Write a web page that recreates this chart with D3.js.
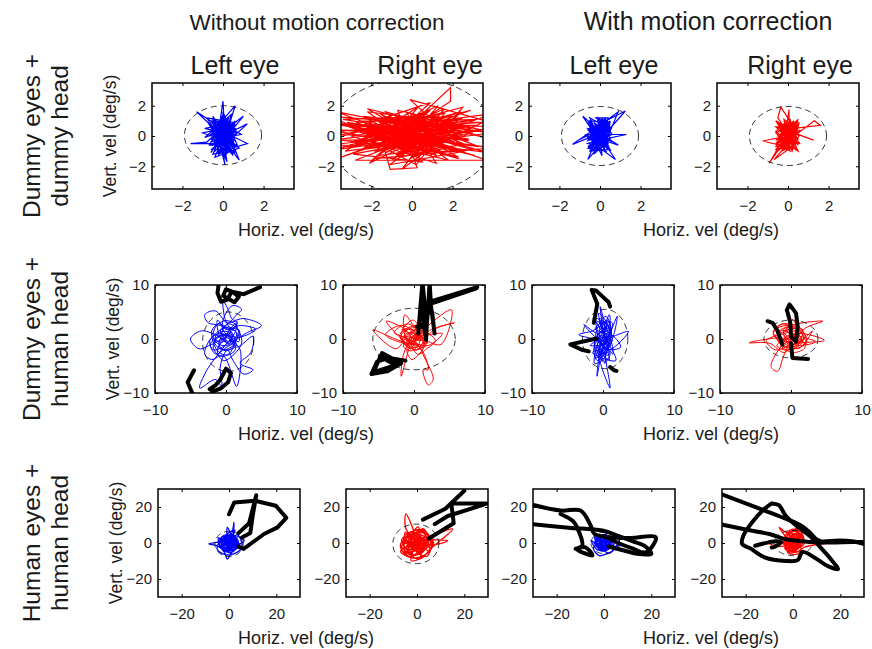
<!DOCTYPE html>
<html>
<head>
<meta charset="utf-8">
<script src="https://cdn.jsdelivr.net/npm/d3@7"></script>
<style>
  body { margin: 0; background: #fff; }
  svg { font-family: "Liberation Sans", Arial, Helvetica, sans-serif; }
</style>
</head>
<body>
<svg width="872" height="649"></svg>
<script>
// Text of the figure
const groupTitles = ["Without motion correction", "With motion correction"];
const eyeTitles = ["Left eye", "Right eye", "Left eye", "Right eye"];
const rowLabels = [["Dummy eyes +", "dummy head"], ["Dummy eyes +", "human head"], ["Human eyes +", "human head"]];
const xLabel = "Horiz. vel (deg/s)";
const yLabel = "Vert. vel (deg/s)";

// Axis ranges and ticks per row
const rowDomains = [[-3.5, 3.5], [-10, 10], [-30, 30]];
const rowTicks = [[-2, 0, 2], [-10, 0, 10], [-20, 0, 20]];

// Velocity traces (deg/s), [horiz, vert]
const traceR1C1 = [[0.1,0.2],[-0.4,0.9],[0.3,-0.6],[-0.2,-1.1],[0.5,0.4],[-0.6,0.1],[0.2,1.1],[0.6,-0.3],[-0.3,-0.5],[0.0,2.3],[0.1,-0.2],[-0.5,-0.9],[0.4,0.8],[-0.9,0.5],[0.3,0.1],[1.2,-0.5],[0.2,-0.9],[-0.3,0.6],[0.6,2.0],[0.2,0.3],[-1.3,1.6],[-0.2,0.2],[0.5,-1.3],[-0.5,0.4],[0.2,-1.7],[-0.1,0.7],[0.7,0.2],[-0.7,-0.6],[0.4,-0.5],[-1.6,-0.5],[-0.8,-0.4],[0.3,0.9],[-0.4,-1.4],[0.8,-0.8],[0.0,0.0],[1.2,0.8],[0.3,-0.3],[-0.5,1.3],[0.1,-1.9],[-0.2,0.5],[0.6,0.6],[-0.9,-0.1],[0.4,1.4],[0.0,-0.7],[-0.4,-0.2],[0.9,0.1],[-0.2,1.0],[0.2,-1.2],[-0.7,0.8],[0.5,-0.1],[-0.3,-0.8],[1.0,1.3],[0.1,0.4],[-0.6,-1.1],[0.3,0.6],[-1.0,0.2],[0.7,-0.6],[0.0,1.6],[-0.1,-0.4],[0.4,0.2],[-0.5,0.0],[0.2,-0.5],[0.8,-1.6],[0.1,0.8],[-0.4,0.3],[0.3,-1.0],[-0.8,1.2],[0.5,0.9],[0.0,-0.1],
  [-0.3,0.4],[0.4,-0.2],[-0.5,-0.6],[0.2,0.9],[0.5,-0.8],[-0.6,0.7],[0.1,-1.3],[0.6,1.0],[-0.2,-0.3],[0.4,0.5],[-0.5,1.1],[0.3,-1.1],[-0.1,0.1],[0.6,0.3],[-0.4,-1.0],[0.0,1.2],[0.5,-0.4],[-0.6,-0.2],[0.2,0.6],[-0.3,-0.7],[0.4,1.1],[-0.5,0.2],[0.1,-0.6],[0.6,-1.1],[-0.2,0.9],[0.3,0.0],[-0.6,-0.9],[0.2,-0.2],[-0.1,1.3],[0.5,0.7],[-0.4,0.0],[0.0,-1.0],[0.6,-0.1],[-0.3,1.0],[0.3,-0.8],[-0.6,0.4],[0.1,0.5],[0.5,-0.6],[-0.2,-1.2],[0.4,0.3],[-0.5,0.8],[0.2,-0.4],[-0.1,-0.8],[0.6,0.8],[-0.4,-0.4],[0.0,0.6],[0.3,1.2],[-0.6,-0.4],[0.5,0.1],[-0.2,-0.5],[0.2,1.0],[-0.5,-1.2],[0.4,-1.0],[-0.3,0.2],[0.1,-0.1],[0.6,0.5],[-0.4,0.6],[0.0,-0.4],[0.3,0.8],[-0.6,1.0],[0.5,-1.2],[-0.1,0.3],[0.2,-0.8],[-0.3,-1.1],[0.4,0.0],[-0.5,0.5],[0.1,1.1],[0.6,-0.7],[-0.2,-0.1],[0.3,0.4]];
const traceR1C2 = [[0.2,0.3],[-3.8,0.8],[2.1,-0.4],[-1.2,1.2],[3.9,0.2],[-2.5,-0.9],[0.8,1.6],[-3.9,-0.2],[1.5,-1.1],[-0.6,0.9],[3.2,1.1],[-2.0,0.1],[0.4,-1.5],[-4.0,1.3],[2.6,0.6],[-1.4,-0.6],[0.9,2.2],[-2.9,0.5],[4.0,-0.8],[-0.8,-1.2],[1.8,1.0],[-3.5,-1.4],[2.9,1.7],[-1.0,0.4],[0.5,-0.3],[-2.2,1.8],[3.6,-0.1],[-0.3,1.3],[1.2,-1.8],[-3.0,0.0],[0.7,0.8],[-1.7,-1.3],[2.4,-0.6],[-0.1,2.4],[3.9,0.9],[-2.6,1.0],[1.1,-0.7],[-4.1,-0.6],[2.0,0.3],[-0.5,-2.2],[1.6,1.5],[-1.9,0.7],[3.1,-1.3],[-0.9,0.0],[0.3,1.9],[-3.3,-1.0],[2.7,0.0],[-1.3,1.6],[0.6,-1.0],[-2.7,0.3],[4.1,1.5],[-0.4,-0.5],[1.4,0.5],[-2.1,-1.8],[1.9,3.2],[1.9,2.3],[0.0,0.6],[-3.7,1.6],[2.3,-1.5],[-1.1,-0.2],[0.8,1.2],[-2.4,-0.4],[3.4,0.4],[-0.7,1.7],[0.25,-2.1],[-1.07,-2.2],[-1.6,0.2],[2.8,-0.3],[-3.2,0.9],[0.1,-0.9],[1.7,0.7],[-2.8,-1.6],[3.7,-1.6],[-0.2,0.2],[-1.8,1.1],[2.2,1.3],[-1.0,-1.6],[0.4,0.1],[-4.0,0.4],[3.0,0.2],[-0.6,-0.8],[1.3,2.0],[-2.3,-0.1],[0.2,-1.9],[2.5,1.9],[-1.5,0.5],[0.9,-0.5],[-3.4,-0.7],[1.5,0.0],[-0.3,-0.2],
  [-1.5,0.6],[1.8,-0.3],[-0.4,-1.0],[2.5,1.2],[-2.8,-0.6],[0.6,0.9],[-3.6,0.3],[1.0,-0.9],[-0.9,1.4],[3.3,-0.7],[-2.1,0.2],[0.3,-1.3],[2.0,0.9],[-1.3,-1.1],[0.9,0.3],[-4.2,0.9],[1.4,-0.5],[-0.2,1.0],[2.9,0.5],[-2.4,1.3],[0.1,-0.6],[1.6,1.8],[-1.8,-0.2],[3.8,-1.1],[-0.7,0.5],[0.5,-1.7],[-2.9,-1.2],[2.2,0.1],[-0.3,1.6],[1.2,-1.3],[-3.1,0.6],[0.8,0.0],[-1.1,-1.9],[2.6,-1.0],[-0.5,0.3],[1.9,1.4],[-2.0,-0.8],[4.2,0.6],[-1.4,0.9],[0.2,-0.2],[-3.8,-0.9],[1.1,1.1],[-0.8,-0.4],[2.3,-1.4],[-1.6,1.5],[0.7,-0.7],[-2.6,0.4],[3.5,0.9],[-0.1,-1.5],[1.5,0.6],[-1.2,0.1],[2.8,-0.2],[-3.4,1.1],[0.4,1.3],[-0.6,-1.4],[1.7,-0.8],[-2.3,0.7],[0.0,0.2],[3.0,-0.9],[-1.9,-1.5],[0.9,1.7],[-0.4,0.8],[1.3,-0.1],[-4.0,-0.3],[2.1,0.8],[-1.0,-0.6],[0.6,1.5],[-2.5,-0.2],[1.8,-1.6],[-0.2,0.4],[3.7,0.3],[-1.7,1.0],[0.3,-0.9],[-0.9,-0.1],[2.4,1.6],[-3.0,-0.4],[1.0,0.4],[-0.5,-1.1],[1.4,1.0],[-2.2,1.6],[0.8,-1.2],[-1.3,0.3],[2.7,-0.6],[-0.1,0.9],[-3.5,0.1],[1.6,-0.3],[-0.7,1.2],[0.5,0.5],[-1.5,-0.9],[2.0,-0.1],[-0.3,-0.7],[1.2,1.3],[-2.7,0.9],[0.2,-1.1],[3.2,0.7],[-1.1,0.7],[0.7,-0.4],[-1.8,-1.0],[0.0,1.1],[1.9,-0.9]];
const traceR1C3 = [[0.0,0.1],[-0.5,0.8],[0.4,-0.6],[-0.3,-0.9],[0.3,1.2],[-0.6,-0.2],[0.5,0.5],[-0.2,1.2],[0.4,1.2],[0.1,-0.4],[-0.6,0.4],[1.25,1.65],[0.3,0.2],[-0.4,-0.6],[0.2,0.9],[-1.35,-0.55],[-0.5,-0.1],[0.5,-0.9],[-0.1,0.6],[0.9,1.6],[0.4,0.0],[-0.6,-1.55],[-0.2,-0.3],[0.5,0.9],[-0.5,1.0],[0.76,-1.55],[0.0,-0.8],[-0.7,0.1],[1.3,0.1],[0.2,-0.2],[-0.4,0.5],[0.6,-0.4],[-0.85,1.3],[-0.3,0.2],[0.3,-1.0],[-0.6,-0.8],[0.45,0.3],[-0.1,1.0],[0.1,-1.3],[-0.5,0.3],[0.5,-0.2],[-0.3,-1.2],[0.2,0.6],[-1.1,-0.3],[0.4,0.7],[0.0,-0.5],[-0.5,0.6],[0.9,-0.6],[-0.2,-0.1],[0.3,0.4],[-0.4,-0.4],[0.1,1.1],[0.6,0.1],[-0.6,-0.5],[0.2,-0.7],[-0.1,0.3],
  [-0.4,0.3],[0.3,-0.5],[-0.5,-0.8],[0.2,1.1],[0.4,-0.3],[-0.6,0.9],[0.0,-1.0],[0.5,0.8],[-0.2,-0.2],[0.3,0.6],[-0.5,1.2],[0.2,-0.9],[-0.1,0.2],[0.5,0.2],[-0.4,-1.0],[0.1,1.2],[0.4,-0.7],[-0.6,-0.1],[0.2,0.5],[-0.3,-0.6],[0.4,1.0],[-0.5,0.1],[0.1,-0.5],[0.5,-1.0],[-0.2,0.8],[0.3,0.0],[-0.6,-0.7],[0.2,-0.1],[-0.1,1.2],[0.5,0.6],[-0.4,-0.2],[0.0,-0.8],[0.5,-0.1],[-0.3,0.9],[0.3,-0.6],[-0.6,0.5],[0.1,0.4],[0.4,-0.5],[-0.2,-1.0],[0.4,0.4],[-0.5,0.7],[0.2,-0.3],[-0.1,-0.7],[0.5,1.0],[-0.4,-0.5],[0.0,0.7],[0.3,1.1],[-0.6,-0.3],[0.45,0.1],[-0.2,-0.4],[0.2,0.9],[-0.5,-1.0],[0.4,-0.9],[-0.3,0.1],[0.1,-0.2],[0.5,0.4],[-0.4,0.6],[0.0,-0.3]];
const traceR1C4 = [[0.0,0.2],[-0.5,0.9],[0.4,-0.5],[-0.3,-1.0],[0.5,1.1],[-0.6,-0.3],[0.3,0.6],[-0.36,1.9],[-0.5,1.2],[0.2,-0.2],[-0.4,0.4],[1.6,0.7],[1.3,1.0],[0.4,0.1],[-0.2,-0.6],[0.05,1.75],[0.05,1.1],[-0.6,0.3],[0.5,-0.9],[-1.25,-0.33],[-0.4,-0.1],[0.3,1.0],[-0.93,-1.8],[-0.2,-0.4],[0.6,0.4],[-0.68,-1.55],[0.0,-0.9],[0.45,0.7],[-0.55,0.6],[1.27,-0.27],[0.1,0.3],[-0.4,-0.8],[0.5,-0.2],[-0.2,1.0],[0.3,-0.7],[-0.6,-0.9],[0.2,0.4],[-0.1,-0.2],[0.4,0.9],[-0.5,0.0],[0.6,-0.5],[-0.3,0.7],[0.1,-1.0],[-0.5,-0.5],[0.35,0.2],[-0.1,0.8],[0.2,-0.4],[-0.3,0.1],
  [-0.3,0.5],[0.4,-0.4],[-0.6,-0.7],[0.1,1.0],[0.5,-0.6],[-0.5,0.8],[0.2,-1.0],[0.55,0.9],[-0.1,-0.1],[0.3,0.3],[-0.6,1.0],[0.3,-0.8],[0.0,0.3],[0.5,0.5],[-0.4,-0.9],[0.1,1.1],[0.4,-0.2],[-0.5,-0.4],[0.2,0.7],[-0.3,-0.5],[0.5,1.0],[-0.6,0.2],[0.0,-0.6],[0.5,-1.0],[-0.2,0.9],[0.3,-0.1],[-0.5,-1.0],[0.1,0.0],[-0.2,1.1],[0.4,0.6],[-0.4,0.1],[0.1,-0.8],[0.55,0.0],[-0.3,0.8],[0.2,-0.5],[-0.6,0.6],[0.0,0.5],[0.4,-0.7],[-0.1,-0.9],[0.3,0.2],[-0.5,0.9],[0.1,-0.3],[-0.2,-0.6],[0.5,0.7],[-0.4,-0.3],[0.1,0.8],[0.3,1.0],[-0.6,-0.5],[0.4,0.3],[-0.1,-0.4]];

const traceR2C1 = [[0.0,0.5],[0.8,2.2],[1.5,3.0],[1.2,1.0],[-0.5,-1.5],[-1.8,-2.0],[-2.3,-0.5],[-1.0,1.5],[0.5,2.8],[1.8,1.5],[2.2,-0.8],[1.0,-3.0],[-0.3,-4.0],[-1.2,-2.5],[-0.5,0.0],[0.6,1.2],[-0.2,4.0],[-0.4,7.0],[0.3,5.5],[1.0,3.5],[2.5,3.8],[5.0,2.5],[3.0,1.2],[0.5,-0.5],[-1.5,0.8],[-3.5,1.5],[-5.0,0.0],[-3.8,-1.8],[-2.0,-1.0],[0.2,0.2],[1.5,-1.5],[3.8,0.5],[3.5,-2.5],[2.0,-4.5],[3.8,-5.7],[2.5,-6.5],[1.0,-4.0],[0.2,-2.0],[-0.8,-5.0],[-0.6,-8.8],[-1.5,-7.5],[-3.7,-9.1],[-2.8,-6.0],[-1.5,-3.5],[0.0,-1.0],[1.0,0.8],[-0.8,2.5],[-2.5,3.0],[-3.0,4.5],[-1.5,5.2],[0.2,3.0],[1.5,4.5],[2.2,5.5],[1.0,6.2],[0.0,4.8],[-0.5,2.0],[0.8,-0.2],[2.0,-2.0],[1.5,-8.8],[0.8,-6.5],[0.3,-4.5],[-0.5,-3.0],[-2.0,-3.8],[-3.0,-2.8],[-2.0,0.3],[-0.6,1.0],[0.5,0.0],[1.2,-1.0],[0.0,-2.2],[-1.0,-1.0],[-0.3,0.8],[1.8,0.3],[4.2,1.8],[2.0,2.5],[0.0,1.8],[-1.2,3.5],[-0.8,0.2],[0.4,-0.8],
  [-0.8,1.5],[0.5,2.2],[1.6,0.8],[1.0,-1.2],[-0.4,-2.0],[-1.6,-0.8],[-1.2,1.0],[0.2,1.4],[1.2,0.2],[0.6,-2.5],[-0.8,-3.2],[-1.8,-1.5],[-1.0,0.4],[0.4,0.6],[1.8,-0.5],[1.4,2.6],[0.0,3.4],[-1.4,2.4],[-1.8,0.2],[-0.6,-1.2],[0.8,-0.8],[1.5,1.2],[0.3,2.0],[-1.0,2.8],[-2.0,1.5],[-1.2,-2.2],[0.2,-3.0],[1.3,-2.0],[0.9,0.0],[-0.3,0.9],[-1.5,0.0],[-0.5,-0.6],[0.6,1.8],[1.9,1.6],[1.2,-0.6],[0.0,-1.6],[-1.4,-2.8],[-2.2,-1.0],[-0.8,0.6],[0.8,0.8],[0.4,-1.0],[-0.6,1.0],[0.2,2.8],[1.6,3.2],[1.0,1.8],[-0.2,0.0],[-1.0,-1.6],[0.5,-2.0],[1.5,-1.0],[0.5,0.4]];
const traceR2C2 = [[0.0,0.3],[1.2,1.5],[-0.8,-1.2],[-2.0,0.8],[0.5,2.5],[1.8,-0.5],[0.3,-2.0],[-1.5,-0.3],[-3.9,3.3],[-1.5,2.0],[0.2,0.0],[2.5,1.8],[5.7,3.0],[3.5,2.2],[1.0,0.2],[-0.5,1.2],[-2.5,-1.8],[-5.8,1.7],[-3.0,0.2],[-1.0,-0.8],[0.8,-1.5],[2.0,-5.7],[1.3,-5.7],[2.0,-8.5],[2.7,-7.5],[1.5,-3.5],[0.5,-1.0],[-1.2,0.5],[-1.3,4.5],[0.2,2.0],[1.5,0.0],[3.8,-1.0],[5.3,5.4],[3.2,3.8],[1.0,1.2],[-0.3,-0.5],[-1.8,-6.9],[-1.5,-3.0],[-0.5,-0.2],[0.8,0.8],[-0.8,2.8],[-2.8,1.2],[-1.0,0.0],[0.5,-2.8],[1.8,-1.8],[3.0,-0.3],[1.0,2.0],[-0.2,3.5],[-1.8,1.0],[-0.5,-1.8],[0.6,0.5],[2.2,0.8],[4.0,1.0],[2.0,-1.2],[0.0,-0.8],[-2.2,-0.5],[-4.0,0.8],[-2.0,2.5],[0.0,1.5],[1.5,-1.0],[-0.3,-3.8],[-1.0,-2.0],[0.3,0.9],[1.0,-0.3],[-0.7,0.6],
  [-0.6,1.2],[0.8,1.8],[1.6,0.4],[0.9,-1.2],[-0.5,-1.6],[-1.6,-0.6],[-1.2,0.9],[0.3,1.0],[1.3,0.0],[0.5,-2.0],[-0.9,-1.4],[-1.9,0.4],[-0.8,1.8],[0.6,0.2],[1.9,-0.8],[1.2,1.4],[-0.2,2.1],[-1.3,1.2],[-1.0,-0.4],[0.2,-1.0],[1.4,-1.6],[1.8,0.9],[0.0,0.6],[-1.5,-1.3],[-0.4,-2.2],[0.8,-0.5],[-0.3,0.8],[-1.7,1.8],[0.4,1.5],[1.0,0.6],[0.2,-0.4],[-1.1,0.1],[0.9,-1.8],[1.6,1.6],[-0.7,-0.8],[-0.1,1.4],[1.2,-0.2],[-1.4,0.5],[0.5,-1.2],[0.0,0.0]];
const traceR2C3 = [[0.0,0.5],[0.5,2.5],[-0.8,-1.5],[0.8,-3.0],[-0.5,3.8],[1.2,1.0],[-1.2,-0.5],[0.3,-4.5],[-0.4,6.0],[0.2,1.5],[-1.0,-3.5],[1.0,-1.0],[2.0,4.2],[0.6,0.0],[-0.6,-2.2],[1.0,-9.1],[0.6,-5.5],[0.0,-2.0],[-0.85,-6.9],[-0.3,-1.0],[0.5,3.0],[-1.5,1.5],[-3.4,0.8],[-1.0,-0.2],[0.8,-2.0],[3.6,1.4],[1.5,0.5],[0.0,-0.5],[-2.7,2.7],[-0.5,1.0],[0.9,4.5],[0.2,-3.5],[-1.2,-4.5],[-0.3,0.0],[1.4,-2.8],[0.4,2.2],[-0.9,3.2],[0.7,-1.2],[-1.5,-2.5],[1.8,-4.0],[0.0,1.2],[-0.6,4.8],[0.9,1.8],[-0.8,0.8],[0.3,-1.8],[2.5,-1.5],[1.0,0.8],[-0.4,-3.0],[0.1,0.3],[-1.8,-1.2],[0.6,-0.6],[-0.2,2.8],[1.3,3.0],[0.0,-1.4],
  [-0.5,1.8],[0.6,3.5],[1.1,0.6],[0.4,-1.6],[-0.8,-3.0],[-1.2,-0.8],[-0.4,1.2],[0.8,2.0],[0.6,-0.4],[-0.3,-2.5],[0.9,-3.8],[0.2,-1.2],[-1.0,0.4],[-0.6,2.6],[0.4,4.2],[1.2,1.4],[0.5,-2.2],[-0.8,-4.0],[-1.3,-1.8],[-0.2,0.6],[0.9,-0.8],[0.2,2.6],[-0.9,3.8],[-0.4,-0.6],[1.0,-2.6],[0.3,-4.2],[-0.6,-1.4],[0.7,0.8],[-1.1,1.8],[0.1,3.2],[1.3,-0.2],[-0.2,-3.2],[0.5,1.0],[-0.8,-0.2],[0.4,-0.9],[0.0,2.0]];
const traceR2C4 = [[0.0,0.3],[1.5,1.2],[-1.2,-0.8],[-2.5,1.5],[0.8,2.5],[2.2,-0.5],[0.2,-1.8],[-1.0,1.8],[4.5,3.3],[2.0,2.0],[0.5,0.0],[-1.8,0.2],[-5.9,-0.7],[-3.0,-0.8],[-1.0,-2.5],[0.5,-1.0],[4.7,-0.25],[2.5,0.8],[0.3,1.0],[-1.5,-1.5],[-2.8,-5.1],[-1.9,-6.0],[-1.0,-3.0],[0.0,-0.5],[1.2,0.8],[-0.5,2.8],[-2.0,2.2],[-0.8,0.5],[1.0,-1.8],[3.0,1.5],[1.5,-0.2],[-0.3,-1.2],[-2.2,-2.0],[-3.5,-0.3],[-1.0,1.0],[0.8,1.8],[0.2,3.6],[-0.6,1.5],[1.8,0.3],[3.5,-0.5],[1.0,-1.2],[-0.8,-0.3],[-2.5,0.8],[-1.2,2.8],[0.5,1.5],[2.0,-1.5],[0.3,-2.5],[-1.5,-1.0],[0.0,0.8],[1.2,-0.6],
  [-1.0,1.2],[0.8,2.0],[2.0,0.6],[1.0,-1.0],[-0.6,-1.6],[-1.8,-0.4],[-1.4,1.6],[0.2,0.8],[1.6,-0.4],[0.4,-1.8],[-1.2,-1.0],[-2.2,0.6],[-0.6,2.2],[1.2,1.4],[2.2,-1.0],[0.6,0.2],[-0.4,-0.8],[-1.6,0.8],[0.0,1.8],[1.6,1.8],[0.8,-1.4],[-1.0,-2.0],[-2.0,-1.2],[-0.2,0.2],[1.0,0.4],[-0.8,1.6],[0.4,2.4],[1.8,0.2],[-0.4,-1.2],[-1.4,0.0],[0.2,-0.6],[0.9,1.0]];

const traceR3C1 = [[0.0,0.0],[2.0,3.0],[-2.5,-1.5],[1.5,-4.0],[-1.0,4.5],[3.5,1.0],[-3.5,1.5],[0.5,-2.5],[2.1,11.5],[1.0,5.0],[-0.7,8.7],[-1.5,2.0],[-8.5,-0.6],[-5.0,-1.5],[-2.0,-5.0],[-0.7,-8.9],[1.0,-5.5],[3.0,-2.0],[6.4,1.3],[4.0,3.5],[0.5,1.5],[-2.0,0.5],[-4.5,3.0],[-3.0,-3.5],[0.0,-3.0],[2.5,-1.0],[1.0,2.5],[-1.5,-0.5],[3.5,4.5],[5.5,-2.5],[2.0,-6.0],[-1.5,-6.5],[-5.0,-3.5],[-4.0,0.5],[-1.0,3.0],[1.5,0.5],[-0.5,-1.5],[4.5,-0.5],[2.0,1.0],[-2.5,2.5],[0.8,6.5],[2.5,7.0],[0.0,2.0],[-3.0,-0.5],[1.0,-1.0],
  [-1.5,2.5],[1.5,3.5],[3.0,0.0],[1.5,-3.0],[-1.0,-4.0],[-3.0,-1.5],[-2.0,2.0],[0.5,2.5],[2.5,0.5],[1.0,-2.0],[-1.5,-2.5],[-3.5,0.5],[-1.0,4.0],[2.0,4.5],[3.5,-1.5],[0.5,-4.5],[-2.5,-3.5],[-3.0,2.5],[0.0,1.0],[2.0,-0.5],[-1.0,-1.0],[1.5,1.5],[-2.0,0.0],[0.5,-1.5],[3.0,2.5],[-0.5,3.5],[-2.5,1.0],[1.0,0.0],[0.0,-2.5],[-1.5,0.8],
  [-3.5,-2.5],[2.5,-3.5],[3.5,2.0],[-0.5,4.5],[-3.0,3.5],[-4.0,-0.5],[-1.0,-5.0],[1.5,-5.0],[4.0,0.0],[2.5,3.5],[0.0,4.5],[-2.5,-0.5],[-0.5,-3.5],[3.0,-1.0],[1.0,3.5],[-2.0,-4.5],[-4.5,1.5],[0.5,-0.5],[2.0,2.0],[-1.5,1.5],[3.5,-3.0],[-3.0,-3.0],[1.0,5.5],[-0.5,0.5]];
const traceR3C2 = [[0.0,0.0],[3.0,2.5],[-3.0,-2.0],[2.0,-5.0],[-2.5,4.5],[4.5,0.5],[-5.0,1.0],[0.5,-3.0],[-4.7,16.1],[-4.7,8.0],[-1.0,3.0],[13.0,1.3],[5.0,-1.0],[1.0,4.0],[-2.0,-6.0],[-2.5,-9.8],[2.5,-8.0],[5.5,-3.5],[15.1,7.8],[6.0,4.0],[0.0,1.5],[-6.5,-1.5],[-4.0,-5.0],[0.5,-6.5],[3.5,-3.0],[-1.5,-1.0],[-5.5,3.5],[-2.0,6.5],[1.5,7.0],[3.5,5.0],[0.0,-1.5],[-3.5,0.0],[2.0,1.0],[-7.0,-4.5],[-1.0,-8.5],[4.0,-6.0],[7.0,0.5],[2.5,3.0],[-1.0,-2.5],[1.5,-1.0],[-3.0,2.0],[0.5,9.0],[1.0,2.0],[-2.0,-3.5],[3.0,-1.5],
  [-3.0,4.0],[3.0,5.5],[6.0,1.0],[3.0,-4.0],[-2.0,-7.0],[-5.5,-3.0],[-4.0,3.0],[0.0,5.0],[4.5,2.0],[2.0,-2.0],[-2.5,-4.5],[-6.0,0.0],[-1.0,7.0],[3.5,6.5],[6.5,-2.0],[1.0,-8.0],[-4.5,-6.5],[-5.0,4.5],[0.0,2.0],[3.0,-0.5],[-2.0,-1.5],[2.0,3.0],[-3.5,0.5],[1.0,-5.0],[5.0,4.0],[-1.5,5.5],[-4.0,-1.0],[2.5,0.0],[-1.0,-3.0],[0.5,0.5],
  [-6.0,3.0],[4.0,-7.5],[6.5,3.0],[-3.0,-8.0],[-7.0,-1.0],[2.0,6.5],[5.5,-5.0],[-5.0,6.0],[-1.5,-6.5],[3.5,-2.0],[-4.0,-3.5],[1.0,4.5],[-2.5,2.5],[4.5,-1.0],[0.0,-4.0],[-5.5,-5.5],[2.5,8.0],[6.0,-3.0],[-3.5,5.0],[1.5,-2.5],[-1.0,1.0],[5.0,1.5],[-6.5,2.0],[0.5,-9.0],[3.0,3.5]];
const traceR3C3 = [[0.0,0.0],[2.5,2.0],[-2.0,-1.5],[1.5,-3.5],[-1.5,3.5],[3.5,0.5],[-3.5,0.5],[0.5,-2.5],[1.0,5.5],[0.0,2.0],[-2.5,-4.0],[-5.5,1.5],[-3.0,-1.0],[2.0,-5.5],[5.0,-2.0],[6.5,2.5],[3.0,3.5],[-1.0,1.0],[-4.0,3.5],[-1.5,-3.0],[1.0,-1.0],[4.0,-4.0],[0.0,-6.5],[-2.0,-7.0],[-4.5,-3.0],[-1.0,0.5],[2.0,1.0],[-0.5,4.5],[-2.5,2.0],[1.5,-0.5],[3.0,-1.5],[-1.0,-2.0],[8.0,-1.0],[4.0,1.5],[0.5,3.0],[-3.0,5.0],[-0.5,-0.5],
  [-1.5,2.5],[1.5,3.5],[3.5,-0.5],[1.0,-3.0],[-1.5,-3.5],[-3.5,-1.0],[-2.0,2.0],[0.5,3.5],[3.0,1.5],[1.5,-1.5],[-1.0,-4.0],[-3.0,0.5],[-0.5,4.5],[2.5,2.5],[2.0,-3.5],[-2.0,-2.5],[-1.0,1.0],[1.0,0.5],[0.0,-1.5],[-2.5,3.0],[3.5,-2.5],[0.5,1.5],[-1.5,-1.0],[1.0,-0.5],
  [-3.5,2.5],[3.0,3.5],[4.0,-1.5],[-2.5,-3.5],[0.0,-4.5],[2.5,-2.5],[-4.0,-0.5],[-1.0,4.5],[1.5,4.0],[3.5,1.0],[-2.0,0.5],[0.5,-3.0],[-3.0,-2.0],[2.0,0.0],[-0.5,2.5],[1.0,-2.0]];
const traceR3C4 = [[0.0,0.0],[2.5,3.0],[-2.0,-1.5],[1.5,-4.0],[-1.5,4.5],[3.5,0.5],[-4.0,1.0],[0.5,-3.0],[-5.9,8.7],[-3.0,6.0],[0.0,7.0],[2.0,8.5],[3.5,5.0],[1.0,1.0],[-6.0,-2.0],[-11.0,0.5],[-4.0,-0.5],[-2.0,-5.5],[2.0,-6.0],[4.5,-2.5],[17.0,0.5],[6.0,1.0],[2.0,2.0],[-3.0,3.0],[-1.0,-2.5],[3.0,-1.5],[-0.5,5.5],[1.5,-0.5],[-2.5,0.5],[4.0,3.5],[0.5,-5.0],[-3.5,-3.0],[-1.0,1.5],
  [-1.5,3.0],[1.5,5.5],[3.5,2.0],[2.0,-2.5],[-1.0,-4.0],[-3.5,-1.5],[-2.5,3.5],[0.5,6.5],[3.0,4.5],[1.5,-0.5],[-1.5,-2.5],[-3.0,1.5],[-1.0,6.0],[2.5,7.5],[4.0,0.0],[0.5,-4.5],[-2.5,-3.0],[-2.0,5.0],[0.0,2.5],[2.0,1.0],[-1.0,-0.5],[1.0,3.5],[-2.0,1.0],[0.5,-1.5],[4.5,3.0],[-0.5,4.5],[-3.0,-0.5],[1.5,0.5],
  [-3.5,4.0],[3.0,6.5],[4.5,-1.0],[-2.0,-4.5],[1.5,-5.0],[3.5,-3.0],[-4.0,0.0],[-1.5,7.0],[1.0,7.5],[4.0,2.0],[-2.5,2.0],[0.0,-3.0],[-3.0,-2.5],[2.5,-1.0],[-0.5,3.0],[1.0,5.0],[2.0,-3.5],[-1.5,-1.5],[3.0,2.5],[-2.0,6.0]];

// Head-movement samples drawn as thick black paths
const headR2C1 = [
  [[-4.6,-10.5],[-5.4,-8.0],[-4.5,-5.8]],
  [[-2.3,-9.3],[-1.5,-8.6],[-0.8,-7.5],[0.0,-5.5],[0.7,-6.3],[0.3,-8.0],[-0.8,-9.2],[-2.0,-9.8]],
  [[-1.0,10.5],[-1.2,8.5],[-0.7,6.9],[0.2,7.3],[0.8,8.8],[0.0,9.2],[-0.4,8.0],[1.2,6.8],[1.8,7.8],[1.0,8.7],[2.5,8.3],[4.8,9.6]]
];
const headR2C2 = [
  [[-1.2,-4.0],[-3.5,-3.5],[-5.2,-4.2],[-6.0,-6.5],[-3.8,-6.0],[-1.8,-4.5],[-4.5,-2.6],[-5.5,-5.5],[-5.8,-6.2],[-2.5,-4.8],[-4.8,-3.2]],
  [[0.6,1.0],[0.9,6.0],[1.2,10.5],[1.5,6.5],[1.3,3.5],[1.7,-0.2],[1.8,2.5],[2.0,6.0],[2.2,10.5],[2.4,6.0],[2.9,1.0],[2.6,4.5],[2.3,6.5],[8.8,9.4],[8.9,9.6],[2.5,7.0],[1.8,4.0],[1.0,2.2],[0.4,2.3]]
];
const headR2C3 = [
  [[-0.9,0.1],[-4.6,-1.0],[-3.0,-2.0],[-2.0,-2.3]],
  [[-1.3,3.0],[-0.8,6.5],[-1.6,9.1],[-1.0,9.0],[0.8,6.8],[1.0,6.0]],
  [[1.0,-5.2],[1.6,-5.8],[1.9,-5.9]]
];
const headR2C4 = [
  [[-3.3,3.3],[-2.6,3.0],[-1.9,1.5],[-1.2,-1.0]],
  [[-0.6,5.3],[-0.2,6.4],[0.7,4.8],[0.95,2.3],[0.7,-0.5],[0.0,0.4],[-0.1,3.0],[-0.5,5.0]],
  [[0.0,-0.8],[0.2,-3.5],[2.4,-3.7]]
];
const headR3C1 = [
  [[0.0,16.0],[2.2,22.5],[11.0,23.5],[19.8,20.7],[24.2,14.0],[20.5,8.7],[14.8,5.0],[6.2,-3.3],[4.0,-2.0]],
  [[4.0,5.5],[8.5,11.0],[11.5,26.5],[10.0,15.0],[9.0,5.5],[5.5,3.0]]
];
const headR3C2 = [
  [[2.5,13.0],[12.0,19.0],[20.0,29.0]],
  [[5.0,2.5],[15.5,11.0],[14.5,22.0],[29.5,22.0],[27.5,21.0],[13.0,15.0],[7.5,10.5]]
];
const headR3C3 = [
  [[-31,21.5],[-18.4,18.0],[-9.9,18.0],[-5.6,9.6],[-4,5],[4,3],[11.3,2.8],[21.9,3.1],[17.7,-5.2],[12,-3],[6,0],[0,4]],
  [[-31,10.6],[-15,8.5],[-0.7,6.9],[6,4],[12,1],[17,-1.5],[20,-6],[14,-6],[8,-4],[2,-2]],
  [[-18.4,16.1],[-13,12],[-10.5,6],[-9.2,-1.5],[-12,-3.3],[-7.8,-2.4],[-4.9,-7.0],[-9.2,-5.2],[-11,-4]]
];
const headR3C4 = [
  [[-31,27.5],[-18,21],[-6,15],[3,10],[7,6],[10,2],[13,0.5]],
  [[-9,22],[-6,21],[-3,15],[2,9],[7,4],[12,-3],[16,-9],[19,-14.5],[15,-13],[9,-8],[4,-5],[2,-9.5],[-3,-10],[-12,-8],[-18,-3],[-21.5,-0.5],[-21,4],[-17,12],[-12,19],[-9,22]],
  [[-31,10.5],[-20,7.5],[-10,5],[-3,2],[4,1],[8,0.5],[12,0.3],[18,0.3],[25,0.5],[31,0.3],[31,-0.5],[25,1.0],[18,1.3],[13,0.8]],
  [[-16,-1.5],[-10,0.5],[-7,1],[-5,0.5],[-8,-2.2],[-9,-2.5]]
];

// Dashed ellipses: [cx, cy, rx, ry] in deg/s
const ellipsesRow1 = [[0,0.05,1.9,1.95],[0,0,4.1,3.8],[0,0,1.9,1.95],[0,0,1.9,1.95]];
const ellipsesRow2 = [[0.3,-0.5,3.6,5.5],[0,0,5.8,5.7],[0.3,0,3.2,5.5],[0,0,3.8,3.5]];
const ellipsesRow3 = [[0,-0.5,6,7],[-0.5,-0.5,9.7,11],[0.5,0,6,6],[0,0,8,7]];

// Layout (pixels)
const rowLayout = [
    { top: 83, height: 106, lefts: [152, 341, 529, 717], smooth: false, traceWidth: 1.2 },
    { top: 285, height: 108, lefts: [155, 343, 532, 720], smooth: true, traceWidth: 1.0 },
    { top: 489, height: 108, lefts: [158, 346, 533, 722], smooth: true, traceWidth: 1.3 }
];
const plotW = 142;
const eyeTitleX = [235, 430, 614, 800];
const groupTitleX = [317, 708];
const groupTitleSize = [22.5, 25];
const xLabelStart = [238, 643];

const traces = [
    [traceR1C1, traceR1C2, traceR1C3, traceR1C4],
    [traceR2C1, traceR2C2, traceR2C3, traceR2C4],
    [traceR3C1, traceR3C2, traceR3C3, traceR3C4]
];
const heads = [
    [[], [], [], []],
    [headR2C1, headR2C2, headR2C3, headR2C4],
    [headR3C1, headR3C2, headR3C3, headR3C4]
];
const ellipses = [ellipsesRow1, ellipsesRow2, ellipsesRow3];
const eyeColors = ["#0000ff", "#ff0000", "#0000ff", "#ff0000"];

const svg = d3.select("svg");
const defs = svg.append("defs");
const textColor = "#1a1a1a";
const fmt = d3.format("d");  // gives the proper minus sign

rowLayout.forEach((row, r) => {
    row.lefts.forEach((left, c) => {
        const x = d3.scaleLinear().domain(rowDomains[r]).range([left, left + plotW]);
        const y = d3.scaleLinear().domain(rowDomains[r]).range([row.top + row.height, row.top]);
        const line = d3.line().x(d => x(d[0])).y(d => y(d[1]));
        const traceLine = d3.line().x(d => x(d[0])).y(d => y(d[1]))
            .curve(row.smooth ? d3.curveCatmullRom.alpha(0.5) : d3.curveLinear);
        const headLine = d3.line().x(d => x(d[0])).y(d => y(d[1]))
            .curve(r === 2 && c > 1 ? d3.curveCatmullRom.alpha(0.5) : d3.curveLinear);
        const clipId = `clip-${r}-${c}`;

        defs.append("clipPath").attr("id", clipId)
            .append("rect")
            .attr("x", left).attr("y", row.top)
            .attr("width", plotW).attr("height", row.height);

        const g = svg.append("g").attr("clip-path", `url(#${clipId})`);

        // eye velocity trace
        g.append("path")
            .attr("d", traceLine(traces[r][c]))
            .attr("fill", "none")
            .attr("stroke", eyeColors[c])
            .attr("stroke-width", row.traceWidth)
            .attr("stroke-linejoin", "miter");

        // dashed ellipse
        const [cx, cy, rx, ry] = ellipses[r][c];
        const angles = d3.range(0, 361, 4).map(a => a * Math.PI / 180);
        g.append("path")
            .attr("d", line(angles.map(t => [cx + rx * Math.cos(t), cy + ry * Math.sin(t)])))
            .attr("fill", "none")
            .attr("stroke", "#000")
            .attr("stroke-width", 0.8)
            .attr("stroke-dasharray", "6,4");

        // head movement samples
        g.selectAll(".head")
            .data(heads[r][c])
            .enter().append("path")
            .attr("class", "head")
            .attr("d", headLine)
            .attr("fill", "none")
            .attr("stroke", "#000")
            .attr("stroke-width", 4)
            .attr("stroke-linejoin", "round")
            .attr("stroke-linecap", "round");

        // axes: labels on bottom/left, inner ticks on all four sides
        const bottom = svg.append("g")
            .attr("transform", `translate(0,${row.top + row.height})`)
            .call(d3.axisBottom(x).tickValues(rowTicks[r]).tickSize(-3).tickPadding(11).tickFormat(fmt));
        const leftAx = svg.append("g")
            .attr("transform", `translate(${left},0)`)
            .call(d3.axisLeft(y).tickValues(rowTicks[r]).tickSize(-3).tickPadding(6).tickFormat(fmt));
        svg.append("g")
            .attr("transform", `translate(0,${row.top})`)
            .call(d3.axisTop(x).tickValues(rowTicks[r]).tickSize(-3).tickFormat(""));
        svg.append("g")
            .attr("transform", `translate(${left + plotW},0)`)
            .call(d3.axisRight(y).tickValues(rowTicks[r]).tickSize(-3).tickFormat(""));

        svg.selectAll(".domain").remove();
        svg.selectAll(".tick line").attr("stroke", "#000");
        [bottom, leftAx].forEach(a => a.selectAll("text")
            .attr("font-size", 15)
            .attr("font-family", "Liberation Sans, Arial, sans-serif")
            .attr("fill", textColor));

        // box
        svg.append("rect")
            .attr("x", left).attr("y", row.top)
            .attr("width", plotW).attr("height", row.height)
            .attr("fill", "none")
            .attr("stroke", "#000")
            .attr("stroke-width", 1.5);
    });

    // x labels, one per group
    xLabelStart.forEach(sx => {
        svg.append("text")
            .attr("x", sx)
            .attr("y", row.top + row.height + 47)
            .attr("font-size", 18)
            .attr("fill", textColor)
            .text(xLabel);
    });

    // y label on first column
    const cyRow = row.top + row.height / 2;
    svg.append("text")
        .attr("transform", `translate(${row.lefts[0] - 36},${cyRow}) rotate(-90)`)
        .attr("text-anchor", "middle")
        .attr("font-size", 17.5)
        .attr("fill", textColor)
        .text(yLabel);

    // row label, two lines
    rowLabels[r].forEach((t, i) => {
        svg.append("text")
            .attr("transform", `translate(${40 + i * 28},${cyRow}) rotate(-90)`)
            .attr("text-anchor", "middle")
            .attr("font-size", 24.5)
            .attr("fill", textColor)
            .text(t);
    });
});

// column titles
groupTitles.forEach((t, i) => {
    svg.append("text")
        .attr("x", groupTitleX[i]).attr("y", 30)
        .attr("text-anchor", "middle")
        .attr("font-size", groupTitleSize[i])
        .attr("fill", textColor)
        .text(t);
});
eyeTitles.forEach((t, i) => {
    svg.append("text")
        .attr("x", eyeTitleX[i]).attr("y", 74)
        .attr("text-anchor", "middle")
        .attr("font-size", 25)
        .attr("fill", textColor)
        .text(t);
});
</script>
</body>
</html>
